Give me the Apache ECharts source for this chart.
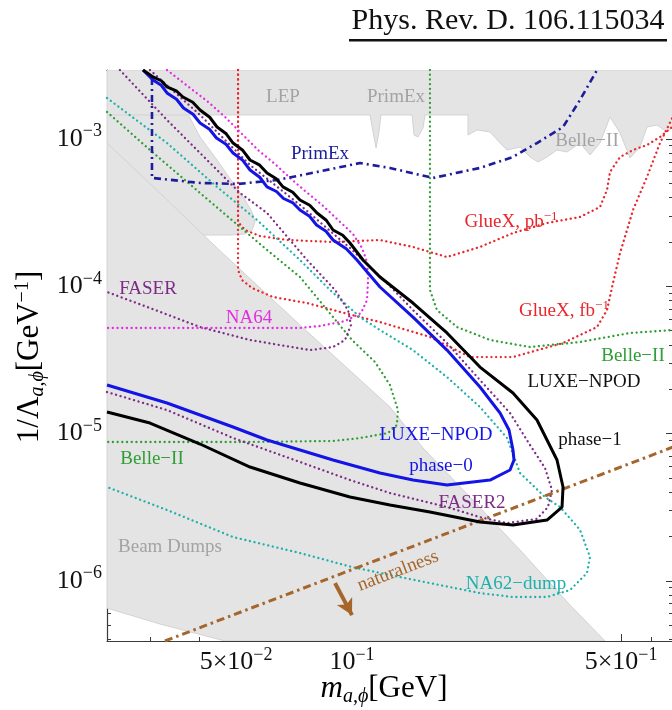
<!DOCTYPE html>
<html>
<head>
<meta charset="utf-8">
<script src="https://cdn.jsdelivr.net/npm/echarts@6/dist/echarts.min.js"></script>
<style>
  html, body { margin: 0; padding: 0; background: #fff; }
  #chart { width: 672px; height: 710px; }
</style>
</head>
<body>
<div id="chart"></div>
<script>
// Axis ranges: ALP/scalar mass m [GeV] and coupling 1/Lambda [GeV^-1]
const X_RANGE = [0.0231, 0.682];
const Y_RANGE = [3.91e-7, 2.94e-3];

// Tick positions and labels
const X_MAJOR = [0.05, 0.1, 0.5];
const X_MAJOR_LABELS = [['5×10', '−2'], ['10', '−1'], ['5×10', '−1']];
const X_MINOR = [0.03, 0.04, 0.06, 0.07, 0.08, 0.09, 0.2, 0.3, 0.4, 0.6];
const Y_MAJOR = [1e-6, 1e-5, 1e-4, 1e-3];
const Y_MAJOR_LABELS = [['10', '−6'], ['10', '−5'], ['10', '−4'], ['10', '−3']];
const Y_MINOR = [4e-7, 5e-7, 6e-7, 7e-7, 8e-7, 9e-7,
  2e-6, 3e-6, 4e-6, 5e-6, 6e-6, 7e-6, 8e-6, 9e-6,
  2e-5, 3e-5, 4e-5, 5e-5, 6e-5, 7e-5, 8e-5, 9e-5,
  2e-4, 3e-4, 4e-4, 5e-4, 6e-4, 7e-4, 8e-4, 9e-4, 2e-3];

// Excluded regions (shaded)
const TOP_BAND = [[0.0231, 2.94e-3], [0.682, 2.94e-3], [0.682, 1.206e-3], [0.658, 1.116e-3], [0.6198, 1.245e-3],
  [0.5837, 1.206e-3], [0.5600, 8.82e-4], [0.5274, 7.43e-4], [0.4968, 1.098e-3], [0.4679, 1.411e-3],
  [0.4408, 9.39e-4], [0.4152, 7.79e-4], [0.3910, 9.39e-4], [0.3618, 8.16e-4], [0.3408, 8.42e-4],
  [0.3210, 7.55e-4], [0.3041, 6.98e-4], [0.2900, 7.55e-4], [0.2732, 8.82e-4], [0.2527, 8.42e-4],
  [0.2424, 9.39e-4], [0.2283, 1.116e-3], [0.2112, 1.151e-3], [0.2001, 1.064e-3], [0.2001, 1.456e-3],
  [0.1548, 1.456e-3], [0.1529, 1.187e-3], [0.1484, 1.031e-3], [0.1449, 1.064e-3], [0.1432, 1.456e-3],
  [0.1189, 1.456e-3], [0.1175, 1.116e-3], [0.1155, 8.69e-4], [0.1134, 1.116e-3], [0.1114, 1.456e-3],
  [0.0231, 1.456e-3]];
const UPPER_WEDGE = [[0.0231, 2.94e-3], [0.02987, 2.94e-3], [0.03227, 2.326e-3], [0.03510, 1.84e-3],
  [0.03795, 1.389e-3], [0.0403, 1.031e-3], [0.04461, 7.20e-4], [0.04909, 5.03e-4], [0.05275, 3.855e-4],
  [0.05499, 3.196e-4], [0.05599, 2.733e-4], [0.05499, 2.411e-4], [0.05275, 2.265e-4], [0.04822, 2.229e-4],
  [0.04103, 2.229e-4], [0.0231, 2.229e-4]];
const BEAM_DUMPS = [[0.0231, 9.39e-4], [0.0317, 4.30e-4], [0.04461, 1.82e-4], [0.07326, 5.46e-5],
  [0.1255, 1.515e-5], [0.1529, 7.99e-6], [0.2025, 3.71e-6], [0.2732, 1.621e-6], [0.3684, 6.86e-7],
  [0.4542, 3.91e-7], [0.0468, 3.91e-7], [0.0317, 5.10e-7], [0.0231, 6.54e-7]];

// Projected sensitivities
const GLUEX_PB = [[0.05058, 2.94e-3], [0.05058, 2.733e-4], [0.05275, 2.411e-4], [0.05768, 2.195e-4],
  [0.06779, 2.062e-4], [0.08928, 1.998e-4], [0.1182, 2.062e-4], [0.1440, 1.849e-4], [0.1765, 1.580e-4],
  [0.2150, 1.849e-4], [0.2619, 2.30e-4], [0.3210, 2.69e-4], [0.3910, 2.955e-4], [0.4408, 3.455e-4],
  [0.4596, 4.51e-4], [0.4679, 5.97e-4], [0.4968, 7.55e-4], [0.5369, 8.42e-4], [0.5837, 9.10e-4],
  [0.6310, 1.031e-3], [0.682, 1.22e-3]];
const GLUEX_FB = [[0.05058, 2.94e-3], [0.05058, 1.29e-4], [0.0518, 1.103e-4], [0.05499, 9.74e-5],
  [0.06234, 8.46e-5], [0.07642, 7.70e-5], [0.08928, 6.90e-5], [0.1049, 6.18e-5], [0.1182, 5.72e-5],
  [0.1594, 4.53e-5], [0.2025, 3.31e-5], [0.2619, 3.31e-5], [0.3533, 4.12e-5], [0.4330, 5.29e-5],
  [0.4596, 6.90e-5], [0.4763, 1.052e-4], [0.4968, 1.683e-4], [0.5369, 3.297e-4], [0.5837, 5.52e-4],
  [0.6310, 9.39e-4], [0.682, 1.42e-3]];
const BELLE2_HIGH = [[0.1594, 2.94e-3], [0.1594, 9.44e-5], [0.1662, 6.90e-5], [0.1874, 5.29e-5],
  [0.2283, 4.32e-5], [0.2900, 3.87e-5], [0.3910, 4.19e-5], [0.5274, 4.82e-5], [0.682, 5.05e-5]];
const BELLE2_LOW = [[0.0231, 1.526e-3], [0.02987, 8.42e-4], [0.0403, 4.30e-4], [0.05119, 2.527e-4],
  [0.06015, 1.764e-4], [0.07326, 1.156e-4], [0.08928, 6.18e-5], [0.1000, 4.32e-5], [0.1148, 3.06e-5],
  [0.1255, 2.138e-5], [0.1316, 1.446e-5], [0.1308, 1.144e-5], [0.1240, 1.009e-5], [0.1049, 9.34e-6],
  [0.08928, 8.91e-6], [0.05434, 8.77e-6], [0.0231, 8.77e-6]];
const NA62_DUMP = [[0.0231, 1.898e-3], [0.03307, 9.39e-4], [0.04461, 4.73e-4], [0.05665, 2.82e-4],
  [0.07326, 1.508e-4], [0.0877, 9.44e-5], [0.1049, 6.18e-5], [0.1182, 5.05e-5], [0.1440, 3.69e-5],
  [0.1765, 2.42e-5], [0.2150, 1.515e-5], [0.2527, 9.34e-6], [0.2732, 5.40e-6], [0.3172, 3.71e-6],
  [0.3470, 3.175e-6], [0.3910, 2.22e-6], [0.4152, 1.453e-6], [0.4078, 1.132e-6], [0.3684, 8.67e-7],
  [0.3210, 7.78e-7], [0.2619, 7.78e-7], [0.2150, 8.27e-7], [0.1594, 9.67e-7], [0.1255, 1.097e-6],
  [0.1000, 1.243e-6], [0.07326, 1.547e-6], [0.04909, 1.986e-6], [0.03307, 3.03e-6], [0.0231, 4.34e-6]];
const FASER = [[0.02495, 2.94e-3], [0.03307, 1.346e-3], [0.04461, 6.16e-4], [0.05119, 4.30e-4],
  [0.06015, 3.146e-4], [0.07642, 1.508e-4], [0.09036, 9.44e-5], [0.09763, 6.90e-5], [0.0994, 5.46e-5],
  [0.09589, 4.32e-5], [0.08928, 3.87e-5], [0.0778, 3.69e-5], [0.05434, 4.32e-5], [0.0403, 5.29e-5],
  [0.02987, 7.12e-5], [0.0231, 9.15e-5]];
const NA64 = [[0.03307, 2.94e-3], [0.03795, 2.221e-3], [0.04202, 1.811e-3], [0.0468, 1.411e-3],
  [0.0515, 1.098e-3], [0.05700, 8.42e-4], [0.0631, 6.76e-4], [0.06902, 5.44e-4], [0.07549, 4.44e-4],
  [0.0836, 3.565e-4], [0.0920, 2.82e-4], [0.1006, 2.265e-4], [0.1062, 1.82e-4], [0.1094, 1.462e-4],
  [0.1101, 1.103e-4], [0.1094, 8.07e-5], [0.1055, 6.58e-5], [0.09589, 5.81e-5], [0.0826, 5.38e-5],
  [0.07326, 5.21e-5], [0.0403, 5.21e-5], [0.0231, 5.21e-5]];
const FASER2 = [[0.02987, 2.94e-3], [0.0403, 1.456e-3], [0.05434, 6.66e-4], [0.07326, 3.565e-4],
  [0.0988, 1.82e-4], [0.1233, 1.052e-4], [0.1440, 6.90e-5], [0.1765, 4.12e-5], [0.2150, 2.31e-5],
  [0.2573, 1.380e-5], [0.2900, 8.37e-6], [0.3172, 5.84e-6], [0.3307, 4.14e-6], [0.3229, 3.175e-6],
  [0.3023, 2.64e-6], [0.2527, 2.47e-6], [0.2150, 2.71e-6], [0.1765, 3.175e-6], [0.1255, 3.95e-6],
  [0.0988, 4.84e-6], [0.07326, 6.42e-6], [0.04909, 9.34e-6], [0.03307, 1.446e-5], [0.0231, 1.916e-5]];
const PRIMEX = [[0.03023, 2.595e-3], [0.03023, 5.44e-4], [0.0403, 5.03e-4], [0.05058, 4.95e-4],
  [0.06385, 5.27e-4], [0.08113, 5.97e-4], [0.1049, 6.87e-4], [0.1255, 6.36e-4], [0.1623, 5.44e-4],
  [0.2150, 6.36e-4], [0.2619, 7.55e-4], [0.3023, 9.39e-4], [0.3533, 1.206e-3], [0.3910, 1.84e-3],
  [0.4330, 2.94e-3]];
const LUXE_PHASE1 = [[0.02865, 2.94e-3], [0.03041, 2.636e-3], [0.03196, 2.485e-3], [0.03307, 2.256e-3],
  [0.03495, 2.125e-3], [0.03638, 1.928e-3], [0.03858, 1.775e-3], [0.0403, 1.574e-3], [0.04270, 1.405e-3],
  [0.04461, 1.206e-3], [0.04713, 1.085e-3], [0.04909, 9.39e-4], [0.05203, 8.38e-4], [0.05434, 7.20e-4],
  [0.05759, 6.64e-4], [0.06015, 5.88e-4], [0.06357, 5.37e-4], [0.06618, 4.73e-4], [0.07015, 4.35e-4],
  [0.07326, 3.855e-4], [0.07766, 3.55e-4], [0.08113, 3.146e-4], [0.08573, 2.808e-4], [0.08928, 2.411e-4],
  [0.09462, 2.221e-4], [0.0988, 1.967e-4],
  [0.1068, 1.508e-4], [0.1182, 1.156e-4], [0.1440, 7.70e-5], [0.1765, 4.82e-5], [0.2150, 2.83e-5],
  [0.2619, 1.886e-5], [0.3023, 1.237e-5], [0.3210, 9.05e-6], [0.3408, 6.62e-6], [0.3533, 4.34e-6],
  [0.3512, 3.175e-6], [0.3210, 2.59e-6], [0.2619, 2.395e-6], [0.2150, 2.51e-6], [0.1594, 2.937e-6],
  [0.1255, 3.274e-6], [0.0988, 3.71e-6], [0.07326, 4.62e-6], [0.05434, 5.93e-6], [0.0403, 8.50e-6],
  [0.02987, 1.180e-5], [0.0231, 1.401e-5]];
const LUXE_PHASE0 = [[0.02865, 2.94e-3], [0.03041, 2.515e-3], [0.03196, 2.316e-3], [0.03307, 2.054e-3],
  [0.03501, 1.861e-3], [0.03650, 1.623e-3], [0.03865, 1.472e-3], [0.0403, 1.284e-3], [0.04264, 1.165e-3],
  [0.04446, 1.016e-3], [0.04707, 9.21e-4], [0.04909, 8.03e-4], [0.05203, 7.17e-4], [0.05434, 6.16e-4],
  [0.05759, 5.50e-4], [0.06015, 4.73e-4], [0.06366, 4.40e-4], [0.06640, 3.946e-4], [0.07027, 3.68e-4],
  [0.07326, 3.297e-4], [0.07757, 2.988e-4], [0.08089, 2.607e-4], [0.08560, 2.364e-4], [0.08928, 2.062e-4],
  [0.09662, 1.798e-4], [0.1030, 1.508e-4],
  [0.1182, 9.89e-5], [0.1440, 6.18e-5], [0.1765, 3.69e-5], [0.2150, 2.072e-5], [0.2424, 1.380e-5],
  [0.2558, 1.058e-5], [0.2619, 7.74e-6], [0.2635, 6.62e-6], [0.2573, 5.66e-6], [0.2283, 4.84e-6],
  [0.1765, 4.48e-6], [0.1440, 4.84e-6], [0.1182, 5.40e-6], [0.08928, 6.62e-6], [0.07326, 7.74e-6],
  [0.06015, 9.05e-6], [0.04909, 1.109e-5], [0.03307, 1.613e-5], [0.0231, 2.138e-5]];
const NATURALNESS = [[0.03266, 3.91e-7], [0.682, 8.1e-6]];
const NATURALNESS_ARROW = [[0.09036, 9.67e-7], [0.1000, 5.86e-7]];

const FONT = '"Liberation Serif", "DejaVu Serif", serif';
const AXIS_COLOR = '#3a3a3a';
const FILL_GRAY = '#e4e4e4';

function tickFormatter(ticks, labels) {
  return function (v) {
    for (let i = 0; i < ticks.length; i++) {
      if (Math.abs(Math.log10(v / ticks[i])) < 1e-6) {
        return '{b|' + labels[i][0] + '}{s|' + labels[i][1] + '}';
      }
    }
    return '';
  };
}
const TICK_RICH = {
  b: { fontFamily: FONT, fontSize: 26, color: '#111' },
  s: { fontFamily: FONT, fontSize: 18, color: '#111', padding: [0, 0, 15, 0] }
};

function logAxis(pos, range, ticks, len, extra) {
  return Object.assign({
    type: 'log', logBase: 10, min: range[0], max: range[1], position: pos,
    axisLine: { show: false },
    axisTick: { show: true, inside: true, length: len, customValues: ticks,
      lineStyle: { color: AXIS_COLOR, width: 1 } },
    axisLabel: { show: false },
    splitLine: { show: false },
    minorTick: { show: false },
    minorSplitLine: { show: false }
  }, extra || {});
}
const FRAME_LINE = { show: true, lineStyle: { color: AXIS_COLOR, width: 1.2 } };

function region(points, z) {
  return {
    type: 'custom', coordinateSystem: 'cartesian2d', xAxisIndex: 0, yAxisIndex: 0,
    data: [points[0]], silent: true, z: z, clip: true,
    renderItem: function (params, api) {
      return {
        type: 'polygon',
        shape: { points: points.map(p => api.coord(p)) },
        style: { fill: FILL_GRAY, stroke: '#d3d3d3', lineWidth: 1 }
      };
    }
  };
}
function curve(data, color, width, dash, z, cap) {
  return {
    type: 'line', data: data, xAxisIndex: 0, yAxisIndex: 0,
    showSymbol: false, symbol: 'none', silent: true, z: z, clip: true,
    lineStyle: { color: color, width: width, type: dash, cap: cap || 'butt', join: 'round' }
  };
}
const DOT = [0.1, 4.6];
const DASH_DOT = [7, 4, 2, 4];

const series = [
  region(UPPER_WEDGE, 1),
  region(BEAM_DUMPS, 1),
  region(TOP_BAND, 1),
  curve(GLUEX_PB, '#e8262b', 2.3, DOT, 3, 'round'),
  curve(GLUEX_FB, '#e8262b', 2.3, DOT, 3, 'round'),
  curve(BELLE2_HIGH, '#2e9e35', 2.3, DOT, 3, 'round'),
  curve(BELLE2_LOW, '#2e9e35', 2.3, DOT, 3, 'round'),
  curve(NA62_DUMP, '#1fb0ab', 2.3, DOT, 3, 'round'),
  curve(FASER, '#7d2b87', 2.3, DOT, 3, 'round'),
  curve(NA64, '#e22ee2', 2.3, DOT, 3, 'round'),
  curve(FASER2, '#7d2b87', 2.3, DOT, 3, 'round'),
  curve(PRIMEX, '#1c1c9c', 2.6, DASH_DOT, 4),
  Object.assign(curve(NATURALNESS, '#a5652b', 3, [8, 4, 2.5, 4], 4), {
    markLine: {
      silent: true, animation: false, symbol: ['none', 'arrow'], symbolSize: [13, 16],
      label: { show: false },
      lineStyle: { type: 'solid', width: 4, color: '#a5652b' },
      data: [[{ coord: NATURALNESS_ARROW[0] }, { coord: NATURALNESS_ARROW[1] }]]
    }
  }),
  curve(LUXE_PHASE0, '#1414e6', 3, 'solid', 5),
  curve(LUXE_PHASE1, '#000000', 3, 'solid', 6)
];

// Text annotations inside the frame
const GRAY_TXT = '#a3a3a3';
const NOTES = [
  { t: 'LEP', x: 283, y: 97, c: GRAY_TXT },
  { t: 'PrimEx', x: 396, y: 97, c: GRAY_TXT },
  { t: 'Belle−II', x: 587, y: 141, c: GRAY_TXT },
  { t: 'Beam Dumps', x: 170, y: 547, c: GRAY_TXT },
  { t: 'PrimEx', x: 320, y: 154, c: '#1c1c9c' },
  { t: '{r|GlueX, pb}{s|−1}', x: 511, y: 222, c: '#e8262b' },
  { t: '{r|GlueX, fb}{s|−1}', x: 564, y: 311, c: '#e8262b' },
  { t: 'Belle−II', x: 633, y: 356, c: '#2e9e35' },
  { t: 'Belle−II', x: 152, y: 459, c: '#2e9e35' },
  { t: 'FASER', x: 148, y: 289, c: '#7d2b87' },
  { t: 'FASER2', x: 472, y: 503, c: '#7d2b87' },
  { t: 'NA64', x: 249, y: 318, c: '#e22ee2' },
  { t: 'LUXE−NPOD', x: 584, y: 382, c: '#111' },
  { t: 'phase−1', x: 590, y: 440, c: '#111' },
  { t: 'LUXE−NPOD', x: 436, y: 435, c: '#1414e6' },
  { t: 'phase−0', x: 441, y: 466, c: '#1414e6' },
  { t: 'NA62−dump', x: 516, y: 584, c: '#1fb0ab' },
  { t: 'naturalness', x: 398, y: 571, c: '#a5652b', rot: 21 }
];

const graphics = NOTES.map(n => ({
  type: 'text', x: n.x, y: n.y, z: 20, silent: true,
  rotation: (n.rot || 0) * Math.PI / 180,
  style: {
    text: n.t, fill: n.c, fontFamily: FONT, fontSize: 19,
    align: 'center', verticalAlign: 'middle',
    rich: {
      r: { fontFamily: FONT, fontSize: 19, fill: n.c, color: n.c },
      s: { fontFamily: FONT, fontSize: 13, fill: n.c, color: n.c, padding: [0, 0, 10, 0] }
    }
  }
}));

// Axis titles
graphics.push({
  type: 'text', x: 384, y: 689, z: 20, silent: true,
  style: {
    text: '{i|m}{sub|a,ϕ}{r|[GeV]}', align: 'center', verticalAlign: 'middle',
    rich: {
      i: { fontFamily: FONT, fontSize: 31, fontStyle: 'italic', color: '#111' },
      sub: { fontFamily: FONT, fontSize: 20, fontStyle: 'italic', color: '#111', padding: [15, 0, 0, 0] },
      r: { fontFamily: FONT, fontSize: 31, color: '#111' }
    }
  }
});
graphics.push({
  type: 'text', x: 30, y: 357, z: 20, silent: true, rotation: Math.PI / 2,
  style: {
    text: '{r|1/Λ}{sub|a,ϕ}{r|[GeV}{sup|−1}{r|]}', align: 'center', verticalAlign: 'middle',
    rich: {
      r: { fontFamily: FONT, fontSize: 31, color: '#111' },
      sub: { fontFamily: FONT, fontSize: 20, fontStyle: 'italic', color: '#111', padding: [15, 0, 0, 0] },
      sup: { fontFamily: FONT, fontSize: 20, color: '#111', padding: [0, 0, 15, 0] }
    }
  }
});
// Reference header
graphics.push({
  type: 'text', x: 508, y: 21, z: 20, silent: true,
  style: { text: 'Phys. Rev. D. 106.115034', fill: '#111', fontFamily: FONT, fontSize: 30,
    align: 'center', verticalAlign: 'middle' }
});
graphics.push({
  type: 'rect', z: 20, silent: true,
  shape: { x: 349, y: 39, width: 318, height: 2.5 },
  style: { fill: '#111' }
});

const option = {
  animation: false,
  backgroundColor: '#ffffff',
  grid: { left: 107, right: -1, top: 70, bottom: 69, containLabel: false, outerBoundsMode: 'none' },
  xAxis: [
    logAxis('bottom', X_RANGE, X_MAJOR, 7, {
      axisLine: FRAME_LINE,
      axisLabel: { show: true, customValues: X_MAJOR, formatter: tickFormatter(X_MAJOR, X_MAJOR_LABELS),
        rich: TICK_RICH, margin: 5 }
    }),
    logAxis('bottom', X_RANGE, X_MINOR, 4),
    logAxis('top', X_RANGE, X_MAJOR, 7, { axisLine: FRAME_LINE }),
    logAxis('top', X_RANGE, X_MINOR, 4)
  ],
  yAxis: [
    logAxis('left', Y_RANGE, Y_MAJOR, 7, {
      axisLine: FRAME_LINE,
      axisLabel: { show: true, customValues: Y_MAJOR, formatter: tickFormatter(Y_MAJOR, Y_MAJOR_LABELS),
        rich: TICK_RICH, margin: 5 }
    }),
    logAxis('left', Y_RANGE, Y_MINOR, 4),
    logAxis('right', Y_RANGE, Y_MAJOR, 7),
    logAxis('right', Y_RANGE, Y_MINOR, 4)
  ],
  series: series,
  graphic: graphics
};

const chart = echarts.init(document.getElementById('chart'), null, { renderer: 'canvas' });
chart.setOption(option);
</script>
</body>
</html>
